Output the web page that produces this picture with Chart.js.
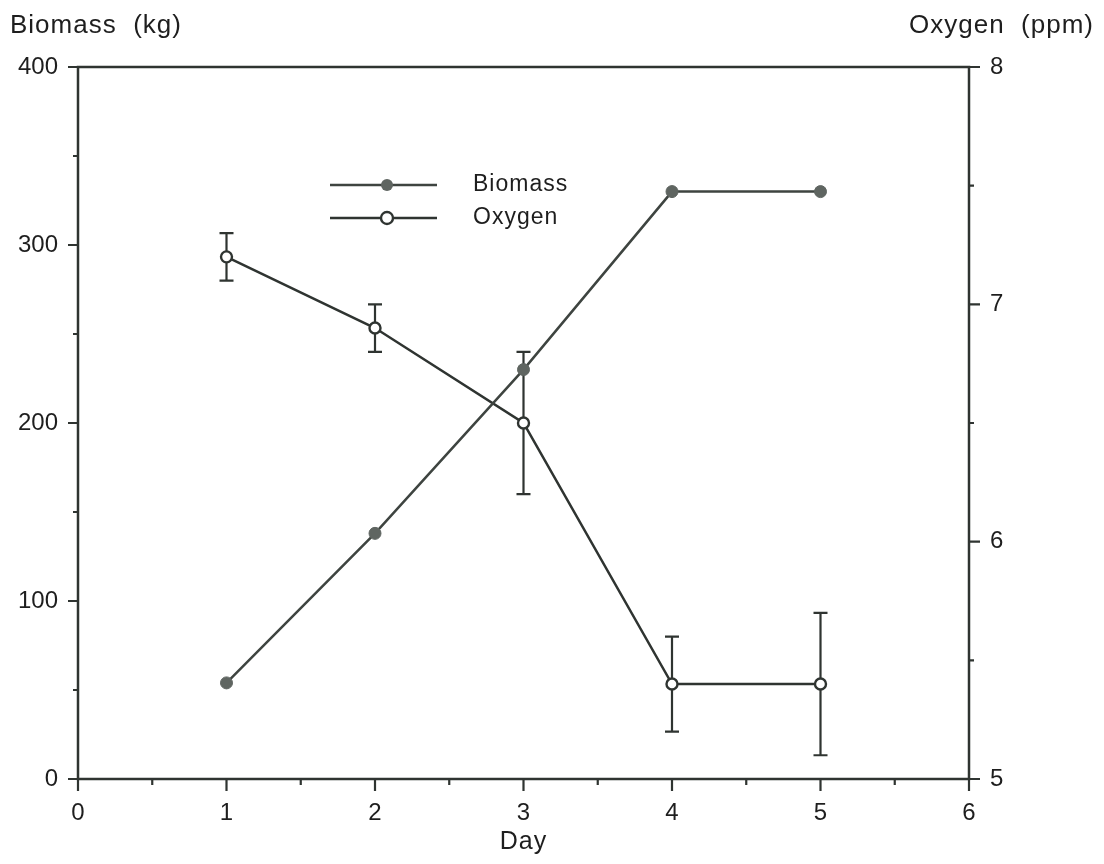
<!DOCTYPE html>
<html>
<head>
<meta charset="utf-8">
<title>Biomass and Oxygen</title>
<script src="https://cdn.jsdelivr.net/npm/chart.js@4/dist/chart.umd.min.js"></script>
<style>
  html, body { margin:0; padding:0; background:#fff; }
  #wrap { width:1104px; height:864px; position:relative; }
</style>
</head>
<body>
<div id="wrap"><canvas id="chart"></canvas></div>
<script>
// data
const days = [1, 2, 3, 4, 5];
const biomass = [54, 138, 230, 330, 330];
const oxygen = [7.2, 6.9, 6.5, 5.4, 5.4];
const oxygenLow = [7.1, 6.8, 6.2, 5.2, 5.1];
const oxygenHigh = [7.3, 7.0, 6.8, 5.6, 5.7];

const ink = "#2f3431";
const bioLine = "#3e4440";
const bioDot = "#5f6561";
const FONT = "'Liberation Sans', Arial, Helvetica, sans-serif";

const biomassPts = days.map((d,i)=>({x:d, y:biomass[i]}));
const oxygenPts = days.map((d,i)=>({x:d, y:oxygen[i]}));

// error bars, axis frame, ticks, titles and legend
const decor = {
  id: "decor",
  beforeDatasetsDraw(chart){
    const ctx = chart.ctx;
    const xs = chart.scales.x, ys = chart.scales.y1;
    ctx.save();
    ctx.strokeStyle = ink;
    ctx.lineWidth = 2.2;
    days.forEach((d,i)=>{
      const px = xs.getPixelForValue(d);
      const lo = ys.getPixelForValue(oxygenLow[i]);
      const hi = ys.getPixelForValue(oxygenHigh[i]);
      ctx.beginPath();
      ctx.moveTo(px, lo); ctx.lineTo(px, hi);
      ctx.moveTo(px-7, lo); ctx.lineTo(px+7, lo);
      ctx.moveTo(px-7, hi); ctx.lineTo(px+7, hi);
      ctx.stroke();
    });
    ctx.restore();
  },
  afterDraw(chart){
    const ctx = chart.ctx;
    const a = chart.chartArea;
    const xs = chart.scales.x, yl = chart.scales.y, yr = chart.scales.y1;
    ctx.save();
    ctx.strokeStyle = ink;
    ctx.lineWidth = 2.5;
    ctx.strokeRect(a.left, a.top, a.right - a.left, a.bottom - a.top);

    ctx.lineWidth = 2.2;
    ctx.beginPath();
    for(let v = xs.min; v <= xs.max + 1e-9; v += 0.5){
      const p = xs.getPixelForValue(v);
      const len = Number.isInteger(v) ? 12 : 6;
      ctx.moveTo(p, a.bottom); ctx.lineTo(p, a.bottom + len);
    }
    for(let v = yl.min; v <= yl.max + 1e-9; v += 50){
      const p = yl.getPixelForValue(v);
      const len = v % 100 === 0 ? 10 : 5;
      ctx.moveTo(a.left, p); ctx.lineTo(a.left - len, p);
    }
    for(let v = yr.min; v <= yr.max + 1e-9; v += 0.5){
      const p = yr.getPixelForValue(v);
      const len = Number.isInteger(v) ? 11 : 5;
      ctx.moveTo(a.right, p); ctx.lineTo(a.right + len, p);
    }
    ctx.stroke();

    // axis titles
    ctx.fillStyle = "#1e1e1e";
    ctx.font = "26px " + FONT;
    ctx.letterSpacing = "1px";
    ctx.textBaseline = "alphabetic";
    ctx.textAlign = "left";
    ctx.fillText("Biomass  (kg)", 10, 33);
    ctx.textAlign = "right";
    ctx.fillText("Oxygen  (ppm)", 1094, 33);
    ctx.textAlign = "center";
    ctx.font = "25px " + FONT;
    ctx.fillText("Day", (a.left + a.right)/2, 849);

    // legend
    const lx0 = 330, lx1 = 437, lm = 387, tx = 473;
    const rows = [
      {y:185, label:"Biomass", line:bioLine, filled:true},
      {y:218, label:"Oxygen", line:ink, filled:false}
    ];
    ctx.font = "23px " + FONT;
    ctx.letterSpacing = "1px";
    ctx.textAlign = "left";
    ctx.textBaseline = "middle";
    rows.forEach(r=>{
      ctx.strokeStyle = r.line;
      ctx.lineWidth = 2.5;
      ctx.beginPath();
      ctx.moveTo(lx0, r.y); ctx.lineTo(lx1, r.y);
      ctx.stroke();
      ctx.beginPath();
      ctx.arc(lm, r.y, 6, 0, Math.PI*2);
      if(r.filled){
        ctx.fillStyle = bioDot; ctx.fill();
      } else {
        ctx.fillStyle = "#fff"; ctx.fill();
        ctx.lineWidth = 2.4; ctx.stroke();
      }
      ctx.fillStyle = "#1e1e1e";
      ctx.fillText(r.label, tx, r.y);
    });
    ctx.restore();
  }
};

const tickFont = { family: FONT, size: 24 };

new Chart(document.getElementById("chart"), {
  type: "scatter",
  data: {
    datasets: [
      {
        label: "Biomass",
        data: biomassPts,
        yAxisID: "y",
        showLine: true,
        borderColor: bioLine,
        borderWidth: 2.5,
        pointRadius: 6,
        pointBackgroundColor: bioDot,
        pointBorderColor: bioDot,
        pointBorderWidth: 1
      },
      {
        label: "Oxygen",
        data: oxygenPts,
        yAxisID: "y1",
        showLine: true,
        borderColor: ink,
        borderWidth: 2.5,
        pointRadius: 5.5,
        pointBackgroundColor: "#fff",
        pointBorderColor: ink,
        pointBorderWidth: 2.4
      }
    ]
  },
  options: {
    responsive: true,
    maintainAspectRatio: false,
    animation: false,
    layout: { padding: { top: 67, left: 0, right: 0, bottom: 0 } },
    plugins: { legend: { display: false }, tooltip: { enabled: false } },
    scales: {
      x: {
        type: "linear",
        min: 0, max: 6,
        ticks: { stepSize: 1, font: tickFont, color: "#1e1e1e", padding: 20, maxRotation: 0 },
        grid: { display: false, drawTicks: false },
        border: { display: false },
        afterFit(s){ s.height = 85; }
      },
      y: {
        position: "left",
        min: 0, max: 400,
        ticks: { stepSize: 100, font: tickFont, color: "#1e1e1e", padding: 20 },
        grid: { display: false, drawTicks: false },
        border: { display: false },
        afterFit(s){ s.width = 78; }
      },
      y1: {
        position: "right",
        min: 5, max: 8,
        ticks: { stepSize: 1, font: tickFont, color: "#1e1e1e", padding: 21 },
        grid: { display: false, drawTicks: false },
        border: { display: false },
        afterFit(s){ s.width = 135; }
      }
    }
  },
  plugins: [decor]
});
</script>
</body>
</html>
